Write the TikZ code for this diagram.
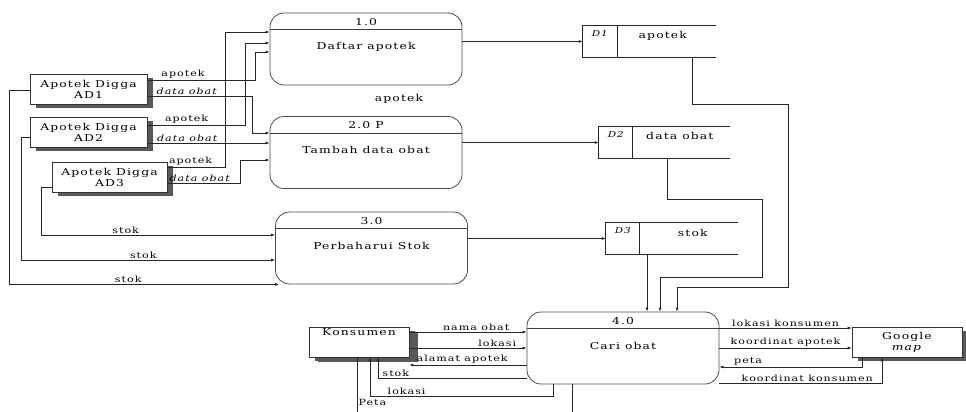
\documentclass[tikz,border=0pt]{standalone}
\usepackage{fontspec}
\setmainfont{DejaVu Serif}[FakeStretch=1.3,LetterSpace=12]
\usetikzlibrary{arrows.meta,shadows}

\begin{document}
\begin{tikzpicture}[
  x=1pt, y=-1pt,
  font=\fontsize{9.5}{11}\selectfont,
  proc/.style={draw=black!70, line width=.8pt, rounded corners=14pt,
               minimum width=192pt, minimum height=72pt, inner sep=0pt},
  procline/.style={draw=black!75, line width=.8pt},
  store/.style={minimum height=31pt, inner sep=0pt},
  storeid/.style={font=\itshape\fontsize{8}{9}\selectfont},
  entity/.style={draw=black!80, line width=.7pt, fill=white, align=center,
                 minimum height=30pt, inner sep=1pt,
                 drop shadow={shadow xshift=6pt, shadow yshift=-4pt,
                              fill=black!65, opacity=1}},
  flow/.style={-{Latex[length=4pt,width=3pt]}, line width=.7pt, draw=black!85},
  wire/.style={line width=.7pt, draw=black!85},
  lbl/.style={font=\fontsize{8.5}{9}\selectfont, inner sep=1.2pt}
]
\useasboundingbox (0,0) rectangle (966,412);

% processes
\node[proc] (p1) at (366,49) {};
\draw[procline] ([yshift=-17pt]p1.north west) -- ([yshift=-17pt]p1.north east);
\node (p1num) at ([yshift=-9pt]p1.north) {1.0};
\node (p1txt) at ([yshift=-34pt]p1.north) {Daftar apotek};

\node[proc] (p2) at (366,152.5) {};
\draw[procline] ([yshift=-17pt]p2.north west) -- ([yshift=-17pt]p2.north east);
\node (p2num) at ([yshift=-9pt]p2.north) {2.0 P};
\node (p2txt) at ([yshift=-34pt]p2.north) {Tambah data obat};

\node[proc] (p3) at (371.5,248) {};
\draw[procline] ([yshift=-17pt]p3.north west) -- ([yshift=-17pt]p3.north east);
\node (p3num) at ([yshift=-9pt]p3.north) {3.0};
\node (p3txt) at ([yshift=-34pt]p3.north) {Perbaharui Stok};

\node[proc] (p4) at (623,348) {};
\draw[procline] ([yshift=-17pt]p4.north west) -- ([yshift=-17pt]p4.north east);
\node (p4num) at ([yshift=-9pt]p4.north) {4.0};
\node (p4txt) at ([yshift=-34pt]p4.north) {Cari obat};

\node (freeapotek) at (399,99) {apotek};

% data stores
\node[store, minimum width=133pt] (d1) at (649.5,41.5) {};
\draw[wire] (d1.north east) -- (d1.north west) -- (d1.south west) -- (d1.south east);
\draw[wire] ([xshift=35pt]d1.north west) -- ([xshift=35pt]d1.south west);
\node[storeid] (d1id) at ([xshift=17pt,yshift=-8pt]d1.north west) {D1};
\node (d1name) at ([xshift=80pt,yshift=-10pt]d1.north west) {apotek};

\node[store, minimum width=131pt] (d2) at (664.5,142.5) {};
\draw[wire] (d2.north east) -- (d2.north west) -- (d2.south west) -- (d2.south east);
\draw[wire] ([xshift=34pt]d2.north west) -- ([xshift=34pt]d2.south west);
\node[storeid] (d2id) at ([xshift=17pt,yshift=-8pt]d2.north west) {D2};
\node (d2name) at ([xshift=81pt,yshift=-9pt]d2.north west) {data obat};

\node[store, minimum width=132pt] (d3) at (672,238.5) {};
\draw[wire] (d3.north east) -- (d3.north west) -- (d3.south west) -- (d3.south east);
\draw[wire] ([xshift=34pt]d3.north west) -- ([xshift=34pt]d3.south west);
\node[storeid] (d3id) at ([xshift=17pt,yshift=-8pt]d3.north west) {D3};
\node (d3name) at ([xshift=87pt,yshift=-10pt]d3.north west) {stok};

% external entities
\node[entity, minimum width=117pt] (a1) at (88.5,89) {Apotek Digga\\AD1};
\node[entity, minimum width=117pt] (a2) at (88.5,132) {Apotek Digga\\AD2};
\node[entity, minimum width=115pt] (a3) at (109.5,177) {Apotek Digga\\AD3};
\node[entity, minimum width=100pt, drop shadow={shadow xshift=9pt,
  shadow yshift=-5pt, fill=black!65, opacity=1}] (kons) at (359,342)
  {Konsumen\\[8pt]};
\node[entity, minimum width=110pt, drop shadow={shadow xshift=10pt,
  shadow yshift=-4pt, fill=black!65, opacity=1}] (gmap) at (907,342)
  {Google\\\textit{map}};

% apotek -> 1.0 / 2.0
\draw[flow] (a1.east |- 0,80) -- node[lbl, above, pos=.33]{apotek} ++(108,0)
  |- (p1.west |- 0,52);
\draw[flow] (a1.east |- 0,96) -- node[lbl, above, pos=.38]{\textit{data obat}}
  ++(105,0) |- (p2.west |- 0,133);
\draw[flow] (a2.east |- 0,125) -- node[lbl, above, pos=.4]{apotek} ++(98,0)
  |- (p1.west |- 0,43);
\draw[flow] (a2.east |- 0,143) -- node[lbl, above, pos=.33]{\textit{data obat}}
  (p2.west |- 0,143);
\draw[flow] (a3.east |- 0,167) -- node[lbl, above, pos=.4]{apotek} ++(58,0)
  |- (p1.west |- 0,32);
\draw[flow] (a3.east |- 0,183) -- node[lbl, above, pos=.45]{\textit{data obat}}
  ++(73,0) |- (p2.west |- 0,160);

% stok -> 3.0
\draw[flow] (a3.west |- 0,187) -- ++(-10,0) |- node[lbl, above, pos=.68]{stok}
  (p3.west |- 0,235);
\draw[flow] (a2.west |- 0,137) -- ++(-8,0) |- node[lbl, above, pos=.74]{stok}
  (p3.west |- 0,260);
\draw[flow] (a1.west |- 0,90) -- ++(-20,0) |- node[lbl, above, pos=.72]{stok}
  ([xshift=4pt]p3.south west);

% processes -> stores
\draw[flow] (p1.east |- d1.west) -- (d1.west);
\draw[flow] (p2.east |- d2.west) -- (d2.west);
\draw[flow] (p3.east |- d3.west) -- (d3.west);

% stores -> 4.0
\draw[flow] ([xshift=42.5pt]d1.south) |- (788,104) |- (677,287)
  -- ([xshift=54pt]p4.north);
\draw[flow] ([xshift=2.5pt]d2.south) |- (762,199) |- (660,277)
  -- ([xshift=37pt]p4.north);
\draw[flow] ([xshift=-25pt]d3.south) -- ([xshift=24pt]p4.north);

% konsumen <-> 4.0
\draw[flow] (kons.east |- 0,332) -- node[lbl, above, pos=.57]{nama obat}
  (p4.west |- 0,332);
\draw[flow] (kons.east |- 0,348) -- node[lbl, above, pos=.75]{lokasi}
  (p4.west |- 0,348);
\draw[flow] (p4.west |- 0,365) -- node[lbl, above, pos=.55]{alamat apotek}
  (kons.east |- 0,365);
\draw[flow] (p4.west |- 0,378) -| node[lbl, above, pos=.44]{stok}
  ([xshift=19pt]kons.south);
\draw[flow] ([xshift=-70pt]p4.south) -- ++(0,12) -| node[lbl, above, pos=.4]{lokasi}
  ([xshift=11pt]kons.south);
\coordinate (cutkons) at (357,412);
\coordinate (cutproc) at (572,412);
\draw[wire] ([xshift=-2pt]kons.south) -- node[lbl, right, pos=.82]{Peta} (cutkons);
\draw[wire] ([xshift=-51pt]p4.south) -- (cutproc);

% 4.0 <-> google map
\draw[flow] (p4.east |- 0,328) -- node[lbl, above, pos=.5]{lokasi konsumen}
  (gmap.west |- 0,328);
\draw[flow] (p4.east |- 0,348) -- node[lbl, above, pos=.5]{koordinat apotek}
  (gmap.west |- 0,348);
\draw[flow] ([xshift=11pt]gmap.south west) |- node[lbl, above, pos=.9]{peta}
  (p4.east |- 0,367);
\draw[flow] (p4.east |- 0,383) -| node[lbl, above, pos=.27]{koordinat konsumen}
  ([xshift=-25pt]gmap.south);
\end{tikzpicture}
\end{document}
